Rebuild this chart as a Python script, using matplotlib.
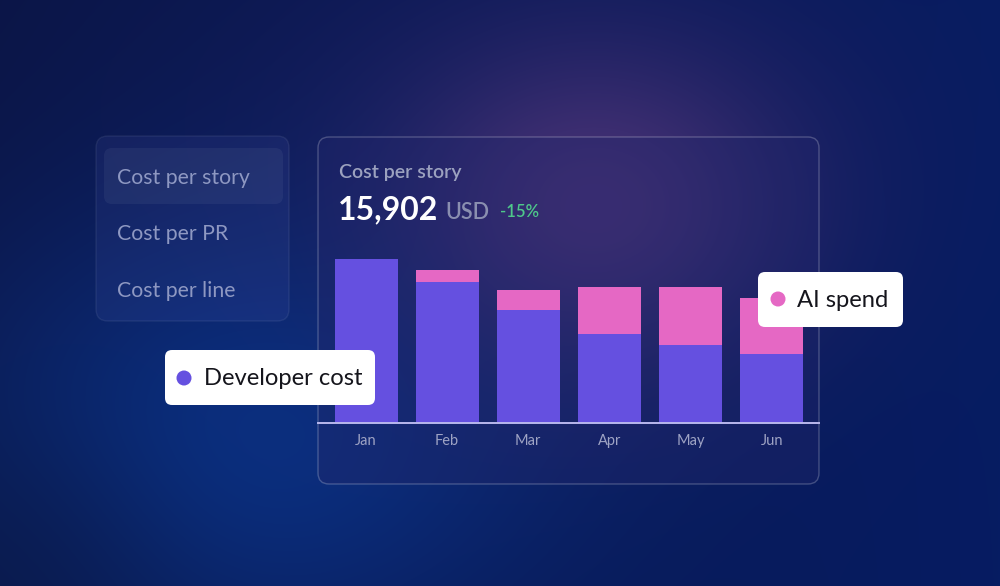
import numpy as np
import matplotlib
matplotlib.use("Agg")
import matplotlib.pyplot as plt
from matplotlib.patches import FancyBboxPatch, Circle
from matplotlib.colors import to_rgb

plt.rcParams['font.family'] = ['Lato', 'DejaVu Sans']

# Data (stacked bars, arbitrary units)
months = ["Jan", "Feb", "Mar", "Apr", "May", "Jun"]
developer_cost = [164, 141, 113, 89, 78, 69]
ai_spend = [0, 12, 20, 47, 58, 56]
menu_items = ["Cost per story", "Cost per PR", "Cost per line"]
headline_value = "15,902"
headline_unit = "USD"
headline_change = "-15%"

DEV_COLOR = "#6550e0"
AI_COLOR = "#e568c4"
W, H = 1000, 586

fig = plt.figure(figsize=(W / 100, H / 100), dpi=100)

# background gradient
bg = fig.add_axes([0, 0, 1, 1], zorder=0)
bg.set_xlim(0, W)
bg.set_ylim(H, 0)
bg.axis("off")
yy, xx = np.mgrid[0:H, 0:W].astype(float)
left = np.array(to_rgb("#0b1546"))
right = np.array(to_rgb("#061c62"))
t = (xx / W)[..., None]
img = left * (1 - t) + right * t


def glow(img, cx, cy, sx, sy, color, strength):
    a = strength * np.exp(-(((xx - cx) / sx) ** 2 + ((yy - cy) / sy) ** 2) / 2)[..., None]
    return img * (1 - a) + np.array(to_rgb(color)) * a


img = glow(img, 560, 120, 260, 160, "#151d5e", 0.7)
img = glow(img, 250, 440, 220, 160, "#0b3388", 0.85)
img = glow(img, 595, 205, 135, 110, "#4d3478", 0.9)
img = glow(img, 0, 586, 120, 120, "#0a1a4a", 0.6)
bg.imshow(np.clip(img, 0, 1), extent=(0, W, H, 0), aspect="auto", zorder=0)

# left menu card
bg.add_patch(FancyBboxPatch((96, 136), 193, 185, boxstyle="round,pad=0,rounding_size=12",
                            fc=(0.5, 0.55, 1, 0.08), ec=(1, 1, 1, 0.07), lw=1, zorder=1))
bg.add_patch(FancyBboxPatch((104, 148), 179, 56, boxstyle="round,pad=0,rounding_size=8",
                            fc=(1, 1, 1, 0.05), ec="none", zorder=2))
for i, item in enumerate(menu_items):
    bg.text(117, 184 + i * 56.5, item, fontsize=15.3, color="#8e98c2", va="baseline", zorder=3)

# main card
bg.add_patch(FancyBboxPatch((318, 137), 501, 347, boxstyle="round,pad=0,rounding_size=11",
                            fc=(0.13, 0.15, 0.42, 0.38), ec=(1, 1, 1, 0.22), lw=1, zorder=1))
bg.text(339, 178, "Cost per story", fontsize=14, fontweight="semibold", color="#9ca2bf",
        va="baseline", zorder=3)
bg.text(338, 219, headline_value, fontsize=23, fontweight="bold", color="white",
        va="baseline", zorder=3)
bg.text(445, 219, headline_unit, fontsize=15.5, fontweight="semibold", color="#8a8fb0",
        va="baseline", zorder=3)
bg.text(500, 217, headline_change, fontsize=12, fontweight="semibold", color="#4ec78a",
        va="baseline", zorder=3)

# bar chart axes, aligned with the card
x = np.arange(len(months))
ax = fig.add_axes([318 / W, (H - 423) / H, 501 / W, 173 / H], zorder=1)
ax.patch.set_alpha(0)
ax.bar(x, developer_cost, width=0.776, color=DEV_COLOR, zorder=2)
ax.bar(x, ai_spend, bottom=developer_cost, width=0.776, color=AI_COLOR, zorder=2)
ax.set_xlim(-0.592, 5.583)
ax.set_ylim(0, 173)
ax.set_xticks(x)
ax.set_xticklabels(months, fontsize=10.5, color="#9ea3c4")
ax.tick_params(axis="x", length=0, pad=8)
ax.set_yticks([])
for s in ["top", "left", "right"]:
    ax.spines[s].set_visible(False)
ax.spines["bottom"].set_color("#b9b8ee")
ax.spines["bottom"].set_linewidth(1.4)

# floating legend chips on top
fg = fig.add_axes([0, 0, 1, 1], zorder=3)
fg.set_xlim(0, W)
fg.set_ylim(H, 0)
fg.axis("off")
fg.patch.set_alpha(0)

chips = [((165, 350, 210, 55), DEV_COLOR, "Developer cost", 184, 378, 204, 385),
         ((758, 272, 145, 55), AI_COLOR, "AI spend", 778, 299, 797, 307)]
for (bx, by, bw, bh), col, label, dx, dy, tx, ty in chips:
    fg.add_patch(FancyBboxPatch((bx, by), bw, bh, boxstyle="round,pad=0,rounding_size=7",
                                fc="white", ec="none", zorder=1))
    fg.add_patch(Circle((dx, dy), 7.5, fc=col, ec="none", zorder=2))
    fg.text(tx, ty, label, fontsize=17.1, color="#15151c", va="baseline", zorder=2)

fig.savefig("out.png", dpi=100)
